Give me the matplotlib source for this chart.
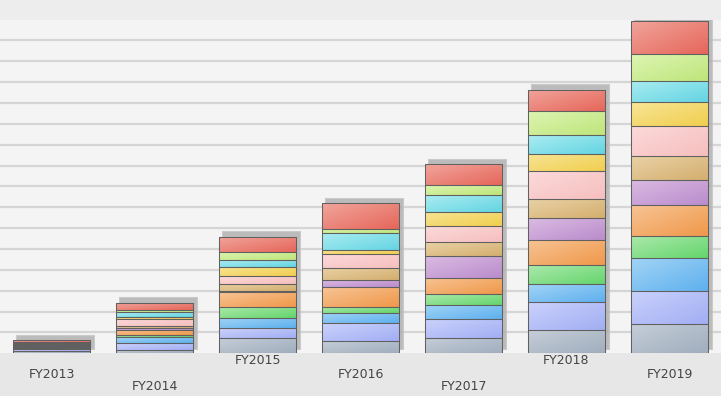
import numpy as np
import matplotlib
matplotlib.use("Agg")
import matplotlib.pyplot as plt
from matplotlib.colors import to_rgb

# fiscal years on the x axis
years = ["FY2013", "FY2014", "FY2015", "FY2016", "FY2017", "FY2018", "FY2019"]

# stacked series, bottom to top (one grid step = 10)
slate    = [1.0, 1.6, 7.5, 6.0, 7.5, 11.0, 14.0]
lavender = [1.0, 3.3, 4.4, 8.6, 8.8, 13.6, 15.9]
sky      = [0.7, 2.7, 5.1, 4.8, 7.0, 8.6, 15.8]
green    = [0.4, 1.0, 5.3, 2.9, 5.0, 9.1, 10.7]
orange   = [0.5, 2.4, 7.1, 9.3, 7.8, 12.2, 14.7]
purple   = [0.3, 1.1, 0.5, 3.5, 10.4, 10.5, 12.1]
tan      = [0.4, 1.2, 3.5, 5.9, 6.7, 9.1, 11.3]
pink     = [0.5, 3.2, 3.8, 6.4, 7.6, 13.2, 14.5]
yellow   = [0.3, 1.0, 4.4, 2.2, 7.0, 8.3, 11.5]
cyan     = [0.3, 2.2, 2.9, 8.1, 8.0, 8.9, 10.2]
lgreen   = [0.2, 1.0, 4.2, 2.1, 5.1, 11.5, 12.8]
red      = [0.6, 3.5, 7.2, 12.1, 9.6, 10.4, 15.9]

series = [slate, lavender, sky, green, orange, purple, tan, pink, yellow, cyan, lgreen, red]

# gradient colours: light (top-left) -> dark (bottom-right)
light = ["#c6ced8", "#cad2fb", "#a2d4f6", "#ace9ac", "#f7c494", "#dabbe2",
         "#e9d2a6", "#fcdada", "#f8e596", "#aaedf1", "#ddf5b3", "#f1a59c"]
dark  = ["#a0aebe", "#a2aef4", "#5eb0ee", "#64d56c", "#f0984a", "#ba8ccc",
         "#d4ae6e", "#f6bebe", "#f0ce4e", "#64d4e2", "#bee57a", "#e6665a"]

label_rows = [1, 2, 0, 1, 2, 0, 1]   # staggered x labels

W, H = 721, 396
fig = plt.figure(figsize=(W / 100, H / 100), dpi=100)
fig.patch.set_facecolor("#e7e7e7")

ax_bottom = (H - 353.3) / H
ax_top = (H - 19.5) / H
ax = fig.add_axes([0, ax_bottom, 1, ax_top - ax_bottom])
ax.set_facecolor("#f4f4f4")

# light band above the plot
fig.patches.append(plt.Rectangle((0, ax_top), 1, 1 - ax_top, transform=fig.transFigure,
                                 facecolor="#ededed", edgecolor="none", zorder=0))

x = np.arange(len(years))
width = 0.75
ymax = 160

ax.set_xlim(-0.5, len(years) - 0.5)
ax.set_ylim(0, ymax)

for g in range(10, ymax, 10):
    ax.axhline(g, color="#d5d5d5", lw=1.6, zorder=1)

# drop shadows behind each stack
totals = np.sum(series, axis=0)
px_x = (len(years)) / W
px_y = ymax / (353.3 - 19.5)
ax.bar(x + 4 * px_x, totals, width, bottom=4.5 * px_y, color="#a8a8a8",
       alpha=0.75, edgecolor="#bdbdbd", lw=1.5, zorder=2)

n = 40
u = np.linspace(0, 1, n)
t = (u[None, :] + u[:, None]) / 2

bottom = np.zeros(len(years))
for vals, c0, c1 in zip(series, light, dark):
    bars = ax.bar(x, vals, width, bottom=bottom, facecolor="none",
                  edgecolor="#606060", lw=0.75, zorder=4)
    a = np.array(to_rgb(c0))
    b = np.array(to_rgb(c1))
    grad = a[None, None, :] * (1 - t[..., None]) + b[None, None, :] * t[..., None]
    for patch in bars:
        x0, y0 = patch.get_x(), patch.get_y()
        im = ax.imshow(grad, extent=(x0, x0 + patch.get_width(), y0, y0 + patch.get_height()),
                       aspect="auto", zorder=3, interpolation="bilinear")
        im.set_clip_path(patch)
    bottom += np.array(vals)

ax.set_xlim(-0.5, len(years) - 0.5)
ax.set_ylim(0, ymax)
ax.set_xticks([])
ax.set_yticks([])
for s in ax.spines.values():
    s.set_visible(False)

row_y = [361, 374, 386]
for xi, lab, r in zip(x, years, label_rows):
    fx = (xi + 0.5) / len(years)
    fig.text(fx, 1 - row_y[r] / H, lab, ha="center", va="center",
             fontsize=9, color="#444444", family="DejaVu Sans")

fig.savefig("out.png", dpi=100, facecolor=fig.get_facecolor())
